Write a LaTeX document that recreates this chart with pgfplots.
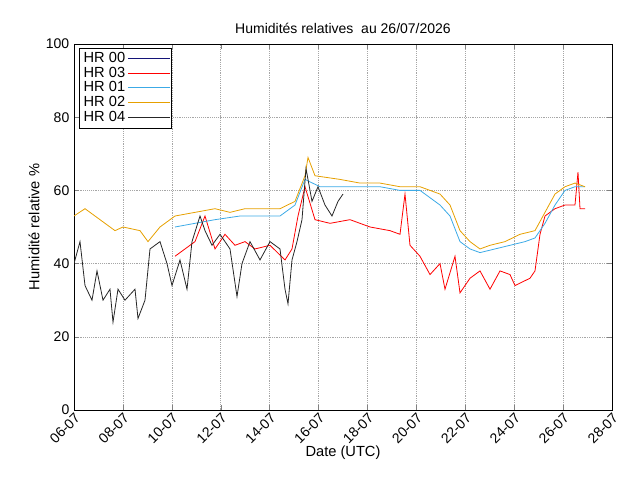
\documentclass[border=0pt]{standalone}
\usepackage{pgfplots}
\pgfplotsset{compat=1.18}
\usepackage{fontspec}
\setmainfont{Liberation Sans}
\definecolor{hrblue}{RGB}{60,170,230}
\definecolor{hrorange}{RGB}{230,160,0}
\definecolor{hrnavy}{RGB}{20,20,120}
\begin{document}
\begin{tikzpicture}
\begin{axis}[name=ax, scale only axis, width=403.5pt, height=274.5pt,
  xmin=74, xmax=612, ymin=0, ymax=100,
  xtick={74,122.9,171.8,220.7,269.6,318.5,367.4,416.3,465.2,514.1,563,612},
  xticklabels={06-07,08-07,10-07,12-07,14-07,16-07,18-07,20-07,22-07,24-07,26-07,28-07},
  xticklabel style={rotate=45, anchor=north east, inner sep=1pt},
  ytick={0,20,40,60,80,100},
  grid=major, grid style={densely dotted, gray!70},
  tick align=inside, tick pos=both, major tick length=4pt,
  /pgf/number format/assume math mode=true,
  ticklabel style={font=\fontsize{10.5}{12}\selectfont},
  label style={font=\fontsize{11}{13}\selectfont},
  xlabel={Date (UTC)}, ylabel={Humidité relative \%},
  xlabel style={yshift=4pt}, ylabel style={yshift=-2pt},
  title={Humidités relatives\ \ au 26/07/2026},
  title style={font=\fontsize{10.5}{12}\selectfont, yshift=-2pt},
  legend plot pos=right,
  legend style={font=\fontsize{11}{11}\selectfont, draw=black, inner sep=1pt, row sep=-2pt, at={(0.01,0.99)}, anchor=north west},
  legend cell align=left,
  every axis plot/.append style={line width=0.6pt},
  legend image code/.code={\draw[#1] (0cm,0cm) -- (1.1cm,0cm);},
]
\addplot[hrnavy] coordinates {(-10,-10)};
\addlegendentry{HR 00}
\addplot[red] coordinates {(175,42)(185,44)(195,46)(205,53)(215,44)(225,48)(235,45)(245,46)(255,44)(270,45)(285,41)(292,44)(298,53)(305,61)(315,52)(330,51)(350,52)(370,50)(390,49)(400,48)(405,59)(410,45)(420,42)(430,37)(440,40)(445,33)(455,42)(460,32)(470,36)(480,38)(490,33)(500,38)(510,37)(515,34)(530,36)(535,38)(540,48)(545,53)(555,55)(565,56)(575,56)(578,65)(580,55)(585,55)};
\addlegendentry{HR 03}
\addplot[hrblue] coordinates {(175,50)(195,51)(215,52)(240,53)(260,53)(280,53)(295,56)(305,63)(320,61)(340,61)(360,61)(380,61)(400,60)(420,60)(440,56)(450,53)(460,46)(470,44)(480,43)(495,44)(510,45)(525,46)(535,47)(545,51)(555,56)(565,60)(575,61)(585,61)};
\addlegendentry{HR 01}
\addplot[hrorange] coordinates {(74,53)(85,55)(100,52)(115,49)(123,50)(140,49)(148,46)(160,50)(175,53)(195,54)(215,55)(230,54)(245,55)(260,55)(280,55)(295,57)(305,64)(308,69)(315,64)(340,63)(360,62)(380,62)(400,61)(420,61)(440,59)(450,56)(460,49)(470,46)(480,44)(490,45)(505,46)(520,48)(535,49)(545,54)(555,59)(565,61)(575,62)(585,61)};
\addlegendentry{HR 02}
\addplot[black!85] coordinates {(74,40)(80,46)(85,34)(92,30)(97,38)(103,30)(110,33)(113,24)(118,33)(125,30)(135,33)(138,25)(145,30)(150,44)(160,46)(167,40)(172,34)(180,41)(187,33)(192,46)(200,53)(205,49)(212,45)(220,48)(230,44)(237,31)(242,40)(250,46)(260,41)(270,46)(280,44)(285,33)(288,29)(292,41)(297,46)(302,52)(306,66)(312,57)(318,61)(325,56)(332,53)(338,57)(343,59)};
\addlegendentry{HR 04}
\end{axis}
\path ([xshift=-55.5pt,yshift=-52.5pt]ax.south west) rectangle ([xshift=21pt,yshift=33pt]ax.north east);
\end{tikzpicture}
\end{document}
